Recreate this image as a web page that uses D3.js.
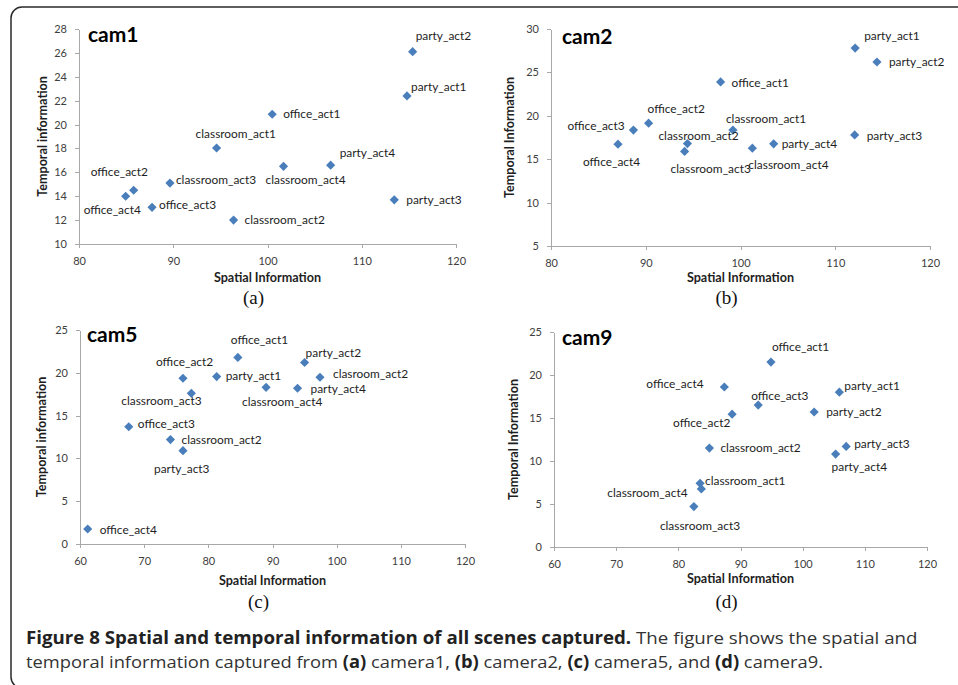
<!DOCTYPE html>
<html>
<head>
<meta charset="utf-8">
<script src="https://cdn.jsdelivr.net/npm/d3@7"></script>
<style>
  body { margin: 0; background: #fff; }
  svg { display: block; }
  .axis path, .axis line { stroke: #a8a8a8; stroke-width: 1; shape-rendering: crispEdges; }
  .axis text { font-family: Lato, sans-serif; font-size: 11px; fill: #404040; }
  .point { fill: #4a7ebb; }
  .point-label { font-family: Lato, sans-serif; font-size: 11.9px; fill: #1e1e1e; }
  .axis-title { font-family: Lato, sans-serif; font-size: 12.6px; font-weight: bold; fill: #1e1e1e; }
  .cam-title { font-family: Lato, sans-serif; font-size: 21px; font-weight: bold; fill: #000; }
  .sub-label { font-family: 'Liberation Serif', serif; font-size: 19px; fill: #111; }
  .caption { font-family: 'Open Sans', sans-serif; font-size: 17px; fill: #333; }
  .caption .strong { font-weight: bold; fill: #222; }
</style>
</head>
<body>
<svg id="figure" width="958" height="685"></svg>
<script>
// Values.
var spatialTicksA = [80, 90, 100, 110, 120];
var spatialTicksC = [60, 70, 80, 90, 100, 110, 120];
var cam1TemporalTicks = [10, 12, 14, 16, 18, 20, 22, 24, 26, 28];
var cam2TemporalTicks = [5, 10, 15, 20, 25, 30];
var cam5TemporalTicks = [0, 5, 10, 15, 20, 25];
var cam9TemporalTicks = [0, 5, 10, 15, 20, 25];

var cam1Scenes = ['office_act1', 'office_act2', 'office_act3', 'office_act4',
  'classroom_act1', 'classroom_act2', 'classroom_act3', 'classroom_act4',
  'party_act1', 'party_act2', 'party_act3', 'party_act4'];
var cam1Spatial = [100.5, 85.8, 87.75, 84.95, 94.6, 96.4, 89.65, 101.7, 114.8, 115.4, 113.45, 106.7];
var cam1Temporal = [20.86, 14.5, 13.07, 14.0, 18.04, 12.0, 15.1, 16.5, 22.4, 26.1, 13.7, 16.6];

var cam2Scenes = ['office_act1', 'office_act2', 'office_act3', 'office_act4',
  'classroom_act1', 'classroom_act2', 'classroom_act3', 'classroom_act4',
  'party_act1', 'party_act2', 'party_act3', 'party_act4'];
var cam2Spatial = [97.9, 90.3, 88.7, 87.07, 99.2, 94.4, 94.1, 101.25, 112.1, 114.4, 112.05, 103.5];
var cam2Temporal = [23.9, 19.15, 18.35, 16.73, 18.35, 16.8, 15.9, 16.27, 27.8, 26.2, 17.8, 16.77];

var cam5Scenes = ['office_act1', 'office_act2', 'office_act3', 'office_act4',
  'clasroom_act2', 'classroom_act2', 'classroom_act3', 'classroom_act4',
  'party_act1', 'party_act2', 'party_act3', 'party_act4'];
var cam5Spatial = [84.6, 76.05, 67.6, 61.2, 97.4, 74.1, 77.35, 89.0, 81.3, 95.0, 76.05, 93.9];
var cam5Temporal = [21.8, 19.36, 13.7, 1.75, 19.48, 12.2, 17.6, 18.3, 19.56, 21.2, 10.9, 18.2];

var cam9Scenes = ['office_act1', 'office_act2', 'office_act3', 'office_act4',
  'classroom_act1', 'classroom_act2', 'classroom_act3', 'classroom_act4',
  'party_act1', 'party_act2', 'party_act3', 'party_act4'];
var cam9Spatial = [94.9, 88.65, 92.85, 87.4, 83.5, 85.0, 82.5, 83.7, 105.9, 101.85, 107.0, 105.3];
var cam9Temporal = [21.5, 15.45, 16.5, 18.6, 7.4, 11.5, 4.7, 6.75, 18.0, 15.7, 11.7, 10.8];

// Where each data label sits relative to its marker (left edge, middle), in px.
var cam1LabelNudge = [[11, 0], [-43, -18], [7, -2], [-42, 14], [-21, -14], [11, 0],
  [6, -3], [-18, 13], [4, -9], [3, -16], [12, 0], [9, -12]];
var cam2LabelNudge = [[11, 1], [-1, -14], [-66, -4], [-35, 18], [-7, -11], [-29, -8],
  [-14, 17], [-4, 17], [9, -12], [12, 0], [12, 1], [8, 0]];
var cam5LabelNudge = [[-7, -18], [-27, -16], [9, -3], [12, 1], [13, -3], [11, 0],
  [-70, 7], [-24, 14], [9, -1], [1, -10], [-29, 18], [13, 1]];
var cam9LabelNudge = [[1, -15], [-59, 9], [-7, -9], [-78, -3], [5, -3], [11, 0],
  [-34, 19], [-94, 4], [5, -6], [12, 0], [8, -3], [-4, 13]];

var panels = [
  {name: 'cam1', sub: '(a)', yTitle: 'Temporal information',
    scenes: cam1Scenes, xs: cam1Spatial, ys: cam1Temporal, nudge: cam1LabelNudge,
    xTicks: spatialTicksA, yTicks: cam1TemporalTicks,
    box: {left: 79, right: 456, top: 29, bottom: 244},
    camAt: [88, 42], xTitleY: 278, yTitleX: 43, subY: 304},
  {name: 'cam2', sub: '(b)', yTitle: 'Temporal Information',
    scenes: cam2Scenes, xs: cam2Spatial, ys: cam2Temporal, nudge: cam2LabelNudge,
    xTicks: spatialTicksA, yTicks: cam2TemporalTicks,
    box: {left: 551, right: 930, top: 29, bottom: 246},
    camAt: [562, 44], xTitleY: 278, yTitleX: 510, subY: 304},
  {name: 'cam5', sub: '(c)', yTitle: 'Temporal information',
    scenes: cam5Scenes, xs: cam5Spatial, ys: cam5Temporal, nudge: cam5LabelNudge,
    xTicks: spatialTicksC, yTicks: cam5TemporalTicks,
    box: {left: 80, right: 465, top: 330, bottom: 544},
    camAt: [87, 342], xTitleY: 581, yTitleX: 42, subY: 608},
  {name: 'cam9', sub: '(d)', yTitle: 'Temporal Information',
    scenes: cam9Scenes, xs: cam9Spatial, ys: cam9Temporal, nudge: cam9LabelNudge,
    xTicks: spatialTicksC, yTicks: cam9TemporalTicks,
    box: {left: 554, right: 927, top: 332, bottom: 547},
    camAt: [562, 345], xTitleY: 579, yTitleX: 514, subY: 608}
];

var svg = d3.select('#figure');

// Frame around the figure; it runs off the right and bottom edges.
svg.append('rect')
  .attr('x', 11)
  .attr('y', 7)
  .attr('width', 1000)
  .attr('height', 681)
  .attr('rx', 11)
  .attr('fill', 'none')
  .attr('stroke', '#2a2a2a')
  .attr('stroke-width', 1.5);

function drawPanel(p) {
  var b = p.box;
  var x = d3.scaleLinear()
    .domain(d3.extent(p.xTicks))
    .range([b.left, b.right]);
  var y = d3.scaleLinear()
    .domain(d3.extent(p.yTicks))
    .range([b.bottom, b.top]);

  var g = svg.append('g').attr('class', 'panel');

  g.append('g')
    .attr('class', 'axis')
    .attr('transform', 'translate(0,' + b.bottom + ')')
    .call(d3.axisBottom(x).tickValues(p.xTicks).tickSize(4).tickSizeOuter(0).tickPadding(9));

  g.append('g')
    .attr('class', 'axis')
    .attr('transform', 'translate(' + b.left + ',0)')
    .call(d3.axisLeft(y).tickValues(p.yTicks).tickSize(4).tickSizeOuter(0).tickPadding(8));

  var marker = d3.symbol().type(d3.symbolSquare).size(42);

  var idx = d3.range(p.scenes.length);

  g.selectAll('path.point')
    .data(idx)
    .enter()
    .append('path')
    .attr('class', 'point')
    .attr('d', marker)
    .attr('transform', function(i) {
      return 'translate(' + x(p.xs[i]) + ',' + y(p.ys[i]) + ') rotate(45)';
    });

  g.selectAll('text.point-label')
    .data(idx)
    .enter()
    .append('text')
    .attr('class', 'point-label')
    .attr('x', function(i) { return x(p.xs[i]) + p.nudge[i][0]; })
    .attr('y', function(i) { return y(p.ys[i]) + p.nudge[i][1]; })
    .attr('dy', '0.35em')
    .text(function(i) { return p.scenes[i]; });

  g.append('text')
    .attr('class', 'cam-title')
    .attr('x', p.camAt[0])
    .attr('y', p.camAt[1])
    .text(p.name);

  g.append('text')
    .attr('class', 'axis-title')
    .attr('x', (b.left + b.right) / 2)
    .attr('y', p.xTitleY)
    .attr('dy', '0.35em')
    .attr('text-anchor', 'middle')
    .text('Spatial Information');

  g.append('text')
    .attr('class', 'axis-title')
    .attr('transform', 'translate(' + p.yTitleX + ',' + (b.top + b.bottom) / 2 + ') rotate(-90)')
    .attr('dy', '0.35em')
    .attr('text-anchor', 'middle')
    .text(p.yTitle);

  g.append('text')
    .attr('class', 'sub-label')
    .attr('x', (b.left + b.right) / 2 - 14)
    .attr('y', p.subY)
    .attr('text-anchor', 'middle')
    .text(p.sub);
}

panels.forEach(drawPanel);

// Caption, two lines; squeezed to the width of the original lines.
var captionLines = [
  {y: 644, width: 892, parts: [
    ['Figure 8 Spatial and temporal information of all scenes captured.', true],
    [' The figure shows the spatial and', false]]},
  {y: 668, width: 798, parts: [
    ['temporal information captured from ', false], ['(a)', true], [' camera1, ', false],
    ['(b)', true], [' camera2, ', false], ['(c)', true], [' camera5, and ', false],
    ['(d)', true], [' camera9.', false]]}
];

captionLines.forEach(function(line) {
  var t = svg.append('text')
    .attr('class', 'caption')
    .attr('x', 0)
    .attr('y', 0);
  line.parts.forEach(function(part) {
    t.append('tspan')
      .attr('class', part[1] ? 'strong' : null)
      .text(part[0]);
  });
  var natural = t.node().getComputedTextLength();
  t.attr('transform', 'translate(26,' + line.y + ') scale(' + (line.width / natural) + ',1)');
});
</script>
</body>
</html>
